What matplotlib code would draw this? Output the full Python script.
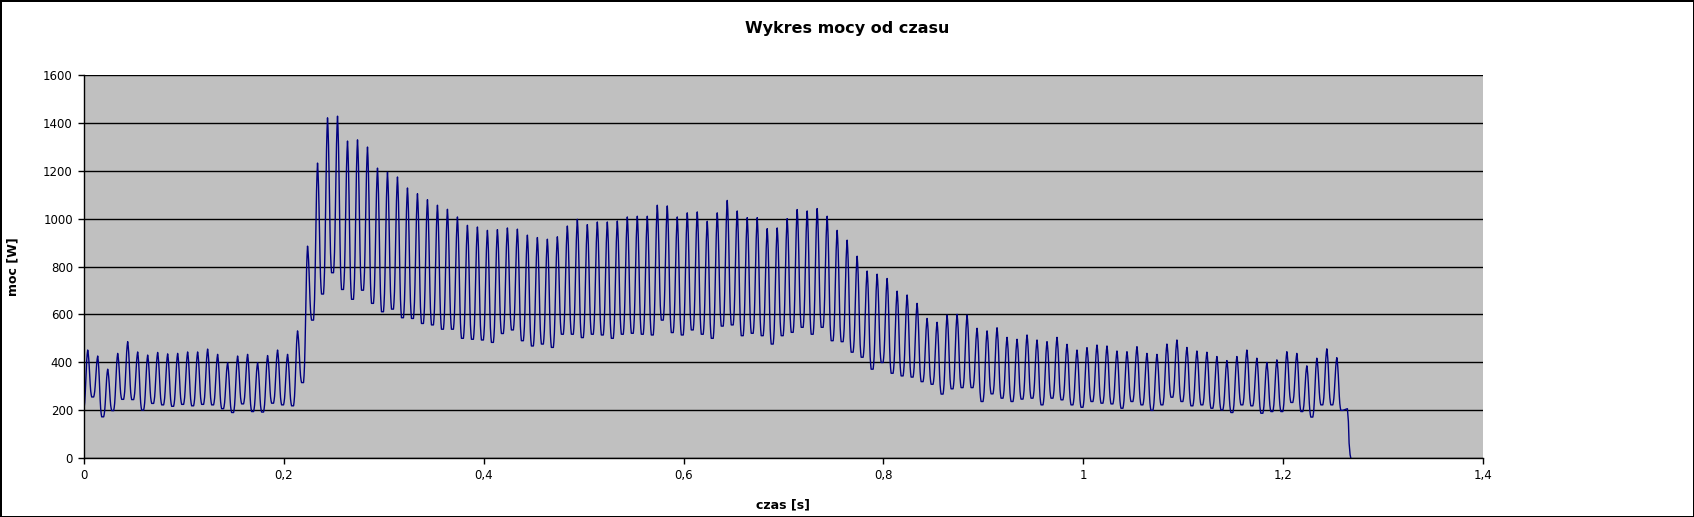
import numpy as np
import matplotlib.pyplot as plt
from matplotlib.ticker import MultipleLocator, FixedFormatter, FixedLocator

# peak value of every half-wave [W] (period 0.01 s)
peaks = [451, 426, 371, 437, 486, 443, 430, 441, 435, 437,
         443, 443, 455, 433, 398, 426, 433, 398, 428, 451,
         433, 531, 885, 1232, 1421, 1428, 1324, 1329, 1299, 1211,
         1194, 1174, 1128, 1104, 1079, 1056, 1039, 1007, 972, 965,
         951, 954, 961, 956, 931, 921, 914, 924, 969, 997,
         975, 986, 986, 990, 1007, 1010, 1010, 1056, 1053, 1007,
         1024, 1028, 989, 1024, 1076, 1032, 1004, 1004, 958, 961,
         1000, 1038, 1032, 1042, 1010, 951, 910, 843, 781, 768,
         750, 697, 681, 646, 583, 567, 597, 600, 597, 542,
         531, 544, 504, 496, 514, 493, 486, 504, 475, 451,
         461, 472, 468, 447, 444, 465, 437, 433, 476, 493,
         462, 447, 442, 424, 407, 424, 451, 417, 399, 410,
         444, 437, 385, 417, 456, 419]

# trough after each peak [W]
troughs = [255, 172, 198, 245, 244, 200, 228, 222, 216, 224,
           218, 224, 222, 206, 190, 226, 194, 192, 229, 222,
           218, 315, 576, 685, 774, 704, 663, 701, 646, 611,
           622, 586, 583, 562, 556, 538, 538, 500, 496, 493,
           483, 520, 535, 490, 468, 476, 462, 517, 517, 503,
           517, 514, 500, 517, 521, 517, 514, 576, 524, 514,
           535, 517, 500, 551, 556, 511, 521, 511, 476, 511,
           525, 546, 517, 546, 490, 486, 442, 421, 371, 399,
           354, 343, 338, 319, 308, 267, 289, 294, 294, 236,
           268, 250, 236, 246, 250, 222, 250, 243, 222, 212,
           236, 229, 226, 208, 236, 222, 199, 222, 254, 236,
           218, 222, 208, 201, 190, 222, 218, 187, 194, 194,
           232, 194, 171, 222, 222, 199]

first_peak = 0.0037
period = 0.01
start_value = 200
# shape of one half-wave, sampled every 0.5 ms from the peak
dt = 0.0005
fall_frac = [1.0, 0.93, 0.82, 0.66, 0.46, 0.27, 0.13, 0.05, 0.0, 0.0, 0.0, 0.0, 0.0]
rise_frac = [0.05, 0.13, 0.27, 0.46, 0.66, 0.82, 0.93]
# switch-off at the end
tail_t = [1.2643, 1.2653, 1.2660, 1.2670, 1.2677]
tail_y = [206, 152, 62, 14, 0]

t = [0.0]
y = [start_value]
n_rise = len(rise_frac)
for i, g in enumerate(rise_frac):
    t.append(first_peak - (n_rise - i) * dt)
    y.append(start_value + g * (peaks[0] - start_value))
for k in range(len(peaks)):
    tp = first_peak + k * period
    p, lo = peaks[k], troughs[k]
    for i, f in enumerate(fall_frac):
        t.append(tp + i * dt)
        y.append(lo + f * (p - lo))
    if k + 1 < len(peaks):
        nxt = peaks[k + 1]
        for i, g in enumerate(rise_frac):
            t.append(tp + period - (n_rise - i) * dt)
            y.append(lo + g * (nxt - lo))
t += tail_t
y += tail_y

fig = plt.figure(figsize=(16.94, 5.17), dpi=100)
fig.patch.set_edgecolor('black')
fig.patch.set_linewidth(2)
ax = fig.add_axes([84/1694, 59/517, 1399/1694, 383/517])
ax.set_facecolor('#C0C0C0')
ax.plot(t, y, color='#000080', lw=1.0)

ax.set_xlim(0, 1.4)
ax.set_ylim(0, 1600)
ax.yaxis.set_major_locator(MultipleLocator(200))
xt = [0, 0.2, 0.4, 0.6, 0.8, 1.0, 1.2, 1.4]
ax.xaxis.set_major_locator(FixedLocator(xt))
ax.xaxis.set_major_formatter(FixedFormatter(['0', '0,2', '0,4', '0,6', '0,8', '1', '1,2', '1,4']))
ax.grid(axis='y', color='black', lw=1)
ax.set_axisbelow(True)
ax.tick_params(axis='both', direction='out', length=4, width=1, labelsize=8.5, pad=4)
for s in ['left', 'bottom']:
    ax.spines[s].set_linewidth(1)
ax.spines['right'].set_visible(False)
ax.spines['top'].set_visible(False)

ax.set_xlabel('czas [s]', fontsize=9, fontweight='bold', labelpad=12)
ax.set_ylabel('moc [W]', fontsize=9, fontweight='bold', labelpad=17)
fig.suptitle('Wykres mocy od czasu', x=0.5, y=1 - 29/517, va='center', fontsize=11.5, fontweight='bold')

fig.savefig('out.png', dpi=100, edgecolor=fig.get_edgecolor())
